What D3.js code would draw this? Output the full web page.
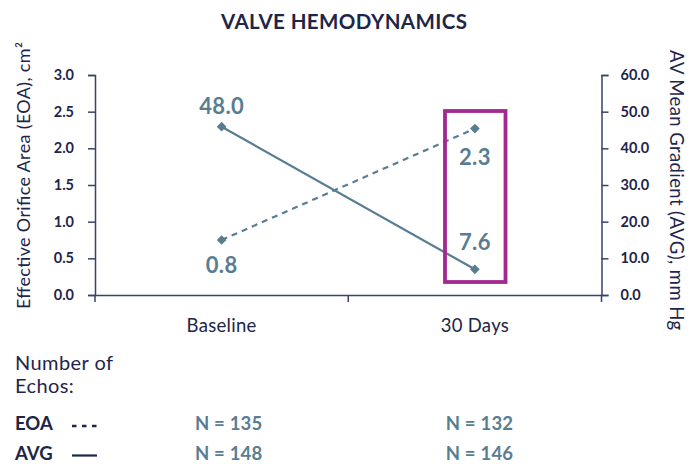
<!DOCTYPE html>
<html><head><meta charset="utf-8">
<script src="https://cdn.jsdelivr.net/npm/d3@7"></script>
<style>body{margin:0;background:#fff}svg{display:block}text{font-family:Lato,"Noto Sans",sans-serif}</style>
</head><body><svg id="c" width="698" height="464"></svg>
<script>
const categories = ["Baseline", "30 Days"];
const eoaValues = [0.75, 2.27];          // plotted EOA, cm²
const eoaLabels = ["0.8", "2.3"];
const avgValues = [45.9, 7.0];           // plotted AVG, mm Hg
const avgLabels = ["48.0", "7.6"];
const leftTicks = [0, 0.5, 1.0, 1.5, 2.0, 2.5, 3.0];
const rightTicks = [0, 10, 20, 30, 40, 50, 60];
const eoaCounts = ["N = 135", "N = 132"];
const avgCounts = ["N = 148", "N = 146"];

const navy = "#1e2548", steel = "#587d93", axisCol = "#3a4265", magenta = "#a3288f";
const svg = d3.select("#c");
const L = 95, R = 601.5, T = 75, B = 295;

const x = d3.scaleBand().domain(categories).range([L, R]);
const yL = d3.scaleLinear().domain([0, 3]).range([B, T]);
const yR = d3.scaleLinear().domain([0, 60]).range([B, T]);
const cx = c => x(c) + x.bandwidth() / 2;

svg.append("text").attr("x", 344).attr("y", 28.5).attr("text-anchor", "middle")
  .attr("font-size", 20.5).attr("font-weight", 700).attr("fill", navy)
  .attr("textLength", 246).attr("lengthAdjust", "spacing").text("VALVE HEMODYNAMICS");

// left axis
const gL = svg.append("g").attr("transform", `translate(${L},0)`)
  .call(d3.axisLeft(yL).tickValues(leftTicks).tickFormat(d3.format(".1f")).tickSize(7).tickPadding(14));
// right axis
const gR = svg.append("g").attr("transform", `translate(${R},0)`)
  .call(d3.axisRight(yR).tickValues(rightTicks).tickFormat(d3.format(".1f")).tickSize(7).tickPadding(12));
// bottom axis
const gB = svg.append("g").attr("transform", `translate(0,${B})`)
  .call(d3.axisBottom(x).tickSize(0).tickPadding(24));
[gL, gR, gB].forEach(g => {
  g.select(".domain").attr("stroke", axisCol).attr("stroke-width", 1.5);
  g.selectAll(".tick line").attr("stroke", axisCol).attr("stroke-width", 1.5);
  g.selectAll("text").attr("fill", navy).style("font-family", "Lato");
});
[gL, gR].forEach(g => g.selectAll("text").attr("font-size", 14.5).attr("font-weight", 700));
gB.selectAll("text").attr("font-size", 18.5).attr("font-weight", 400).attr("letter-spacing", 0.3);
// category boundary ticks
const bounds = [L, x(categories[1]), R];
svg.append("g").selectAll("line").data(bounds).join("line")
  .attr("x1", d => d).attr("x2", d => d).attr("y1", B).attr("y2", B + 7)
  .attr("stroke", axisCol).attr("stroke-width", 1.5);

// axis titles
svg.append("text").attr("transform", "translate(30,175.5) rotate(-90)").attr("text-anchor", "middle")
  .attr("font-size", 18).attr("fill", navy).attr("textLength", 267).attr("lengthAdjust", "spacing")
  .text("Effective Orifice Area (EOA), cm²");
svg.append("text").attr("transform", "translate(670,190) rotate(90)").attr("text-anchor", "middle")
  .attr("font-size", 18.5).attr("fill", navy).attr("textLength", 280).attr("lengthAdjust", "spacing")
  .text("AV Mean Gradient (AVG), mm Hg");

// lines
const eoaPts = categories.map((c, i) => [cx(c), yL(eoaValues[i])]);
const avgPts = categories.map((c, i) => [cx(c), yR(avgValues[i])]);
svg.append("path").attr("d", d3.line()(eoaPts)).attr("fill", "none").attr("stroke", steel)
  .attr("stroke-width", 2.2).attr("stroke-dasharray", "6,5");
svg.append("path").attr("d", d3.line()(avgPts)).attr("fill", "none").attr("stroke", steel)
  .attr("stroke-width", 2.2);
const diamond = d3.symbol().type(d3.symbolDiamond2).size(60);
svg.append("g").selectAll("path").data(eoaPts.concat(avgPts)).join("path")
  .attr("transform", d => `translate(${d[0]},${d[1]})`).attr("d", diamond).attr("fill", steel);

// value labels
const lab = (xx, yy, t) => svg.append("text").attr("x", xx).attr("y", yy).attr("text-anchor", "middle")
  .attr("font-size", 22).attr("font-weight", 700).attr("fill", steel).attr("letter-spacing", 0.3).text(t);
lab(cx(categories[0]), 114, avgLabels[0]);
lab(cx(categories[0]), 273, eoaLabels[0]);
lab(cx(categories[1]), 165, eoaLabels[1]);
lab(cx(categories[1]), 250, avgLabels[1]);

// highlight box
svg.append("rect").attr("x", 445).attr("y", 111).attr("width", 60.5).attr("height", 171)
  .attr("fill", "none").attr("stroke", magenta).attr("stroke-width", 3.8);

// bottom table
svg.append("text").attr("x", 15).attr("y", 369.5).attr("font-size", 20).attr("fill", navy)
  .attr("textLength", 98).attr("lengthAdjust", "spacing").text("Number of");
svg.append("text").attr("x", 15).attr("y", 393).attr("font-size", 20).attr("fill", navy)
  .attr("letter-spacing", 0.4).text("Echos:");
svg.append("text").attr("x", 15).attr("y", 430).attr("font-size", 18.5).attr("font-weight", 700).attr("fill", navy).text("EOA");
svg.append("text").attr("x", 15).attr("y", 460).attr("font-size", 18.5).attr("font-weight", 700).attr("fill", navy).text("AVG");
svg.append("line").attr("x1", 72).attr("x2", 97).attr("y1", 426).attr("y2", 426)
  .attr("stroke", navy).attr("stroke-width", 2.5).attr("stroke-dasharray", "4.5,5.5");
svg.append("line").attr("x1", 72).attr("x2", 97).attr("y1", 455.5).attr("y2", 455.5)
  .attr("stroke", navy).attr("stroke-width", 2.2);
const nx = [228.7, 479.5];
svg.append("g").selectAll("text").data(eoaCounts).join("text")
  .attr("x", (d, i) => nx[i]).attr("y", 430).attr("text-anchor", "middle")
  .attr("font-size", 18.5).attr("font-weight", 700).attr("fill", steel).attr("letter-spacing", 0.2).text(d => d);
svg.append("g").selectAll("text").data(avgCounts).join("text")
  .attr("x", (d, i) => nx[i]).attr("y", 460).attr("text-anchor", "middle")
  .attr("font-size", 18.5).attr("font-weight", 700).attr("fill", steel).attr("letter-spacing", 0.2).text(d => d);
</script></body></html>
